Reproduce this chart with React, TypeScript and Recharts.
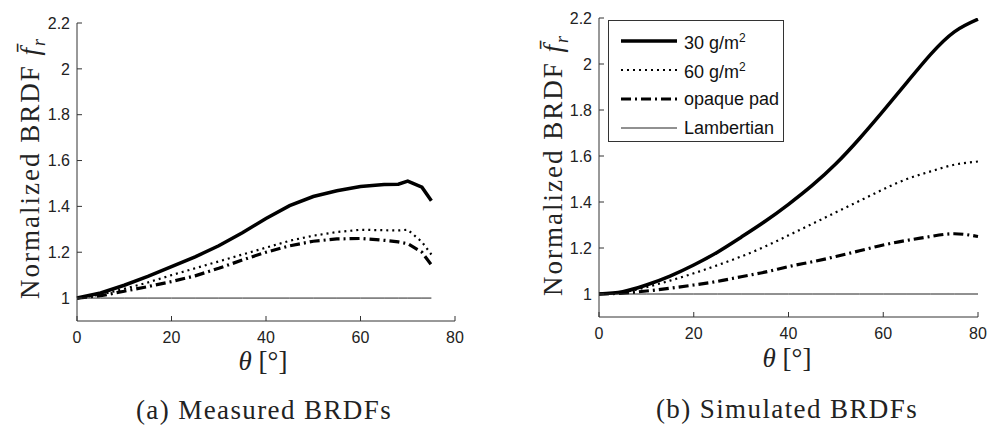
import React from 'react';
import { LineChart, Line, XAxis, YAxis, Legend } from 'recharts';

// measured BRDFs (panel a)
const measuredTheta = [0, 5, 10, 15, 20, 25, 30, 35, 40, 45, 50, 55, 60, 65, 68, 70, 73, 75];
const measured30 = [1.0, 1.022, 1.056, 1.095, 1.137, 1.18, 1.228, 1.285, 1.347, 1.403, 1.443, 1.468, 1.487, 1.495, 1.497, 1.51, 1.484, 1.425];
const measured60 = [1.0, 1.015, 1.04, 1.068, 1.1, 1.13, 1.16, 1.19, 1.22, 1.25, 1.272, 1.288, 1.298, 1.296, 1.295, 1.298, 1.245, 1.19];
const measuredOpaque = [1.0, 1.01, 1.03, 1.05, 1.072, 1.097, 1.13, 1.166, 1.2, 1.228, 1.248, 1.258, 1.26, 1.252, 1.245, 1.237, 1.2, 1.145];
const measuredLambert = [1, 1, 1, 1, 1, 1, 1, 1, 1, 1, 1, 1, 1, 1, 1, 1, 1, 1];

// simulated BRDFs (panel b)
const simTheta = [0, 5, 10, 15, 20, 25, 30, 35, 40, 45, 50, 55, 60, 65, 70, 75, 80];
const sim30 = [1.0, 1.01, 1.039, 1.078, 1.126, 1.182, 1.247, 1.315, 1.39, 1.472, 1.566, 1.676, 1.796, 1.92, 2.042, 2.14, 2.195];
const sim60 = [1.0, 1.008, 1.03, 1.058, 1.09, 1.125, 1.163, 1.206, 1.255, 1.305, 1.355, 1.405, 1.455, 1.5, 1.533, 1.562, 1.576];
const simOpaque = [1.0, 1.004, 1.013, 1.025, 1.039, 1.055, 1.075, 1.095, 1.119, 1.14, 1.163, 1.188, 1.213, 1.233, 1.25, 1.262, 1.25];
const simLambert = [1, 1, 1, 1, 1, 1, 1, 1, 1, 1, 1, 1, 1, 1, 1, 1, 1];

const xTicks = [0, 20, 40, 60, 80];
const yTicks = [1, 1.2, 1.4, 1.6, 1.8, 2, 2.2];

const seriesKeys = ['g30', 'g60', 'opaque', 'lambert'];
const seriesNames = ['30 g/m2', '60 g/m2', 'opaque pad', 'Lambertian'];

const styles: Record<string, { width: number; dash?: string; color: string }> = {
  g30: { width: 3.5, color: '#000' },
  g60: { width: 2.2, dash: '2 4', color: '#000' },
  opaque: { width: 3.2, dash: '10 4 2 4', color: '#000' },
  lambert: { width: 1, color: '#222' },
};

const buildRows = (theta: number[], cols: number[][]) =>
  theta.map((t, i) => {
    const row: any = { theta: t };
    seriesKeys.forEach((k, j) => (row[k] = cols[j][i]));
    return row;
  });

const measuredData = buildRows(measuredTheta, [measured30, measured60, measuredOpaque, measuredLambert]);
const simData = buildRows(simTheta, [sim30, sim60, simOpaque, simLambert]);

const sans = "'Liberation Sans', Arial, sans-serif";
const serif = "'Liberation Serif', 'Times New Roman', serif";
const tickStyle = { fontFamily: sans, fontSize: 16, fill: '#222' };

const LegendBox = () => (
  <div
    style={{
      boxSizing: 'border-box',
      width: 176,
      height: 122,
      border: '1px solid #333',
      background: '#fff',
      padding: '5px 0 0 12px',
      fontFamily: sans,
      fontSize: 18,
      color: '#111',
    }}
  >
    {seriesKeys.map((k, i) => {
      const s = styles[k];
      const label = seriesNames[i];
      return (
        <div key={k} style={{ display: 'flex', alignItems: 'center', height: 29 }}>
          <svg width={56} height={10}>
            <line x1={0} y1={5} x2={56} y2={5} stroke={s.color} strokeWidth={s.width} strokeDasharray={s.dash} />
          </svg>
          <span style={{ marginLeft: 7, lineHeight: '18px' }}>
            {label.endsWith('m2') ? (
              <>
                {label.slice(0, -1)}
                <sup style={{ fontSize: 12 }}>2</sup>
              </>
            ) : (
              label
            )}
          </span>
        </div>
      );
    })}
  </div>
);

const Panel = ({ data, margin, smooth, legend }: any) => (
  <LineChart width={495} height={425} data={data} margin={margin}>
    <XAxis
      dataKey="theta"
      type="number"
      domain={[0, 80]}
      ticks={xTicks}
      tickSize={-5}
      tickMargin={16}
      tick={tickStyle}
      stroke="#333"
      height={30}
    />
    <YAxis
      type="number"
      domain={[0.9, 2.2]}
      ticks={yTicks}
      tickSize={-5}
      tickMargin={12}
      tick={tickStyle}
      stroke="#333"
      width={60}
      allowDataOverflow
    />
    {seriesKeys.map((k, i) => (
      <Line
        key={k}
        dataKey={k}
        name={seriesNames[i]}
        type={smooth ? 'natural' : 'linear'}
        stroke={styles[k].color}
        strokeWidth={styles[k].width}
        strokeDasharray={styles[k].dash}
        dot={false}
        activeDot={false}
        isAnimationActive={false}
      />
    ))}
    {legend && (
      <Legend
        layout="vertical"
        align="center"
        verticalAlign="middle"
        content={<LegendBox />}
        wrapperStyle={{ left: 113, top: 20, width: 176, height: 122 }}
      />
    )}
  </LineChart>
);

const YLabel = ({ x, y }: { x: number; y: number }) => (
  <text
    x={x}
    y={y}
    transform={`rotate(-90 ${x} ${y})`}
    textAnchor="middle"
    fontFamily={serif}
    fontSize={27}
    letterSpacing={2}
    fill="#222"
  >
    Normalized BRDF{' '}
    <tspan fontStyle="italic">{'f\u0304'}</tspan>
    <tspan fontStyle="italic" fontSize={18} dy={6}>
      r
    </tspan>
  </text>
);

const XLabel = ({ x, y }: { x: number; y: number }) => (
  <text x={x} y={y} textAnchor="middle" fontFamily={serif} fontSize={27} fill="#222">
    <tspan fontStyle="italic">θ</tspan> [°]
  </text>
);

const Caption = ({ x, y, text }: { x: number; y: number; text: string }) => (
  <text x={x} y={y} textAnchor="middle" fontFamily={serif} fontSize={27} letterSpacing={1.4} fill="#222">
    {text}
  </text>
);

export default function App() {
  return (
    <div style={{ position: 'absolute', left: 0, top: 0, width: 990, height: 425, background: '#fff' }}>
      <div style={{ position: 'absolute', left: 0, top: 0 }}>
        <Panel data={measuredData} margin={{ top: 23, right: 40, bottom: 74, left: 17 }} />
      </div>
      <div style={{ position: 'absolute', left: 495, top: 0 }}>
        <Panel data={simData} margin={{ top: 18, right: 12, bottom: 78, left: 44 }} smooth legend />
      </div>
      <svg width={990} height={425} style={{ position: 'absolute', left: 0, top: 0, pointerEvents: 'none' }}>
        <YLabel x={39} y={168} />
        <YLabel x={562} y={165} />
        <XLabel x={263} y={370} />
        <XLabel x={787} y={367} />
        <Caption x={264} y={419} text="(a) Measured BRDFs" />
        <Caption x={787} y={418} text="(b) Simulated BRDFs" />
      </svg>
    </div>
  );
}
